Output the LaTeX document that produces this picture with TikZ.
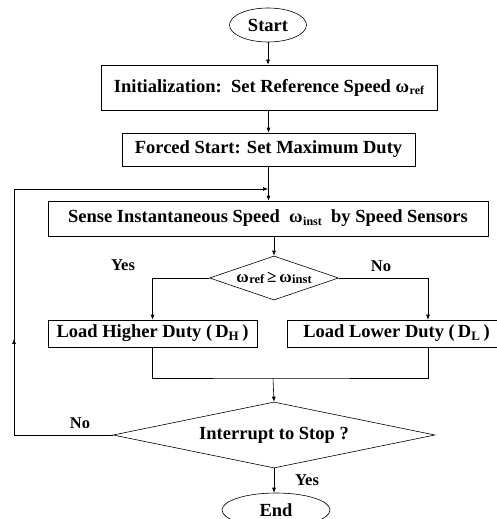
\documentclass[tikz,border=0pt]{standalone}
\usepackage{fontspec}
\setmainfont{Liberation Serif}
\usetikzlibrary{shapes.geometric,arrows.meta,decorations.markings}
\tikzset{
  base/.style={draw=black, line width=0.6pt, font=\bfseries\fontsize{18.5}{21}\selectfont, inner sep=0pt},
  procbox/.style={base, rectangle},
  term/.style={base, ellipse},
  decide/.style={base, diamond},
  conn/.style={line width=0.6pt, -{Latex[length=5pt,width=4pt]}},
  plain/.style={line width=0.6pt},
  lbl/.style={font=\bfseries\fontsize{16.5}{19}\selectfont, inner sep=0pt},
}
\newcommand{\om}[1]{ω\kern0.5pt\raisebox{-0.25ex}{\fontsize{12}{13}\selectfont #1}}
\newcommand{\omsm}[1]{ω\kern0.5pt\raisebox{-0.2ex}{\fontsize{12.5}{13}\selectfont #1}}
\begin{document}
\begin{tikzpicture}[x=1pt,y=-1pt]
\useasboundingbox (0,0) rectangle (497,519);
\clip (0,0) rectangle (497,519);
\node[term, minimum width=77pt, minimum height=34pt] (start) at (268,25) {Start};
\node[procbox, minimum width=336pt, minimum height=45pt] (init) at (269,87.5) {Initialization:\ \ Set Reference Speed \om{ref}};
\node[procbox, minimum width=293pt, minimum height=33pt] (forced) at (268.5,149.5) {Forced Start: Set Maximum Duty};
\node[procbox, minimum width=440pt, minimum height=35pt] (sense) at (268,218.5) {Sense Instantaneous Speed\ \ \om{inst}\ \ by Speed Sensors};
\node[decide, aspect=2.9, inner xsep=-10pt, inner ysep=-4pt, minimum width=129pt, minimum height=44pt, font=\bfseries\fontsize{17}{19}\selectfont] (d1) at (274,278) {\omsm{ref}\,≥\,\omsm{inst}};
\node[procbox, minimum width=209pt, minimum height=27pt] (hi) at (152.5,333.5) {Load Higher Duty (\,D\textsubscript{H}\,)};
\node[procbox, minimum width=213pt, minimum height=27pt] (lo) at (393.5,333.5) {\hspace*{6pt}Load Lower Duty (\,D\textsubscript{L}\,)};
\node[decide, aspect=4.9, minimum width=322pt, minimum height=66pt] (d2) at (274,435) {Interrupt to Stop ?};
\node[term, minimum width=108pt, minimum height=34pt] (end) at (276,510) {End};
\coordinate (merge) at (273,378);
\coordinate (loopL) at (14,435);
\coordinate (loopT) at (14,189);
\coordinate (entry) at (268,189);

\draw[conn] (start.south) -- (start.south |- init.north);
\draw[conn] (init.south -| forced.north) -- (forced.north);
\draw[conn] (forced.south) -- (forced.south |- sense.north);
\draw[conn] (d1.north |- sense.south) -- (d1.north);
\draw[conn] (d1.west) -| (hi.north);
\draw[conn] (d1.east) -| (lo.north -| 428,0);
\draw[plain] (hi.south) |- (merge) -| (lo.south -| 428,0);
\draw[conn] (merge) -- (d2.north);
\draw[conn] (d2.south) -- (d2.south |- end.north);
\draw[plain, postaction={decorate}, decoration={markings, mark=at position 0.565 with {\arrow{Latex[length=5pt,width=4pt]}}}] (d2.west) -- (loopL) -- (loopT);
\draw[conn] (loopT) -- (entry);

\node[lbl] (yes1) at (123,265) {Yes};
\node[lbl] (no1) at (381,266) {No};
\node[lbl] (no2) at (80,423) {No};
\node[lbl] (yes2) at (307,480) {Yes};
\end{tikzpicture}
\end{document}
